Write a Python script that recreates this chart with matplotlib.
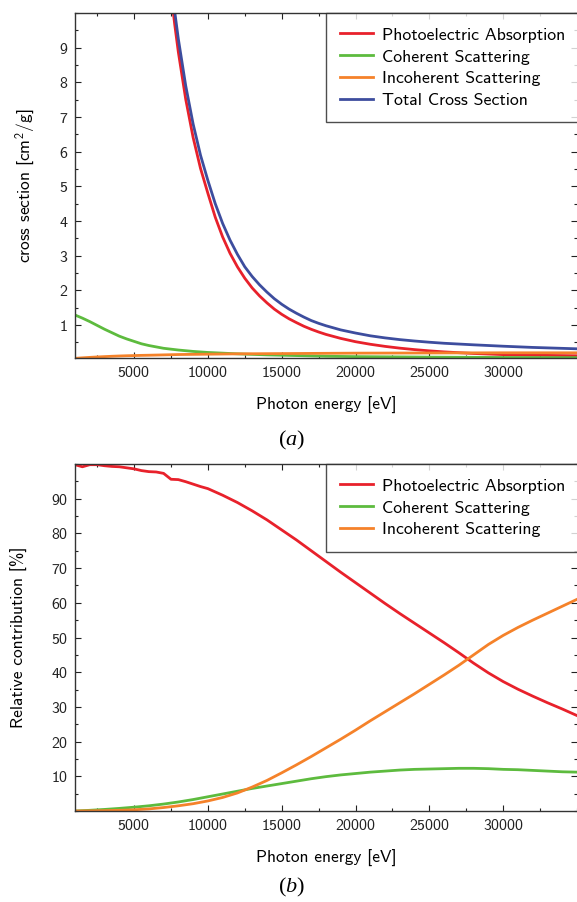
import matplotlib
matplotlib.use("Agg")
import matplotlib.pyplot as plt
from matplotlib.ticker import MultipleLocator

plt.rcParams['font.family'] = ['cmss10', 'DejaVu Sans']
plt.rcParams['mathtext.fontset'] = 'custom'
plt.rcParams['mathtext.rm'] = 'cmss10'
plt.rcParams['mathtext.sf'] = 'cmss10'
plt.rcParams['mathtext.it'] = 'Liberation Serif:italic'
plt.rcParams['mathtext.default'] = 'rm'
plt.rcParams['axes.formatter.use_mathtext'] = True

# ---------------- data: panel (a) cross sections [cm^2/g] ----------------
energy_photo_a = [7250, 7500, 7750, 8000, 8500, 9000, 9500, 10000, 10500, 11000,
                  11500, 12000, 12500, 13000, 13500, 14000, 14500, 15000, 15500,
                  16000, 16500, 17000, 17500, 18000, 19000, 20000, 21000, 22000,
                  23000, 24000, 25000, 26000, 28000, 30000, 32000, 35000]
photo_a = [11.6, 10.6, 9.68, 8.87, 7.51, 6.41, 5.52, 4.8, 4.11, 3.54,
           3.07, 2.68, 2.35, 2.07, 1.84, 1.64, 1.46, 1.31, 1.18,
           1.07, 0.966, 0.878, 0.80, 0.73, 0.615, 0.52, 0.446, 0.385,
           0.334, 0.292, 0.256, 0.226, 0.18, 0.148, 0.13, 0.115]
total_a = [12.0, 10.95, 10.05, 9.25, 7.9, 6.8, 5.9, 5.17, 4.5, 3.93,
           3.45, 3.04, 2.68, 2.4, 2.16, 1.95, 1.76, 1.6, 1.46,
           1.34, 1.23, 1.13, 1.05, 0.98, 0.86, 0.77, 0.69, 0.63,
           0.58, 0.54, 0.505, 0.475, 0.43, 0.39, 0.355, 0.315]

energy_scat_a = [1000, 1500, 2000, 2500, 3000, 3500, 4000, 4500, 5000, 5500, 6000,
                 6500, 7000, 8000, 9000, 10000, 11000, 12000, 14000, 16000, 18000,
                 20000, 25000, 30000, 35000]
coherent_a = [1.29, 1.20, 1.10, 0.99, 0.88, 0.78, 0.68, 0.60, 0.53, 0.46, 0.41,
              0.37, 0.33, 0.28, 0.24, 0.21, 0.19, 0.17, 0.14, 0.12, 0.10,
              0.09, 0.075, 0.065, 0.06]
incoherent_a = [0.04, 0.055, 0.068, 0.08, 0.09, 0.10, 0.108, 0.115, 0.12, 0.126, 0.13,
                0.135, 0.14, 0.15, 0.155, 0.16, 0.165, 0.17, 0.175, 0.18, 0.185,
                0.19, 0.195, 0.2, 0.2]

# ---------------- data: panel (b) relative contribution [%] ----------------
energy_photo_b = [1000, 1500, 2000, 2500, 3000, 3500, 4000, 4500, 5000, 5500, 6000,
                  6500, 7000, 7500, 8000, 8500, 9000, 9500, 10000, 11000, 12000,
                  13000, 14000, 15000, 16000, 17000, 18000, 19000, 20000, 21000,
                  22000, 23000, 24000, 25000, 26000, 27000, 28000, 29000, 30000,
                  31000, 32000, 33000, 34000, 35000]
photo_b = [99.8, 99.2, 99.8, 99.8, 99.5, 99.3, 99.2, 98.9, 98.6, 98.1, 97.8,
           97.7, 97.3, 95.6, 95.5, 94.9, 94.2, 93.5, 92.9, 91.0, 88.9,
           86.5, 83.9, 81.0, 78.1, 75.0, 71.9, 68.8, 65.8, 62.8,
           59.8, 56.9, 54.1, 51.3, 48.5, 45.6, 42.6, 39.8, 37.3,
           35.1, 33.1, 31.2, 29.4, 27.5]

energy_b = [1000, 2000, 3000, 4000, 5000, 6000, 7000, 8000, 9000, 10000, 11000,
            12000, 13000, 14000, 15000, 16000, 17000, 18000, 19000, 20000,
            21000, 22000, 23000, 24000, 25000, 26000, 27000, 28000, 29000,
            30000, 31000, 32000, 33000, 34000, 35000]
coherent_b = [0.0, 0.2, 0.45, 0.75, 1.1, 1.5, 2.0, 2.6, 3.3, 4.1, 4.9,
              5.7, 6.5, 7.2, 7.9, 8.6, 9.3, 9.9, 10.4, 10.8,
              11.2, 11.5, 11.8, 12.0, 12.1, 12.2, 12.3, 12.3, 12.2,
              12.0, 11.9, 11.7, 11.5, 11.3, 11.2]
incoherent_b = [0.0, 0.05, 0.1, 0.2, 0.35, 0.6, 1.0, 1.5, 2.1, 2.9, 3.9,
                5.2, 6.9, 8.8, 11.0, 13.3, 15.7, 18.2, 20.7, 23.3,
                26.0, 28.6, 31.2, 33.8, 36.5, 39.2, 42.0, 45.0, 48.0,
                50.6, 52.9, 55.0, 57.0, 59.0, 61.0]

labels = ["Photoelectric Absorption", "Coherent Scattering",
          "Incoherent Scattering", "Total Cross Section"]
c_red, c_green, c_orange, c_blue = "#e8212b", "#5dbb3e", "#f5822a", "#3d4d9e"

W, H = 577, 902
fig = plt.figure(figsize=(W / 100, H / 100), dpi=100)


def px_axes(left, top, right, bottom):
    return fig.add_axes([left / W, 1 - bottom / H, (right - left) / W, (bottom - top) / H])


ax1 = px_axes(75, 13, 577, 358)
ax2 = px_axes(75, 464, 577, 811)

lw = 2.0
ax1.plot(energy_photo_a, photo_a, color=c_red, lw=lw, label=labels[0])
ax1.plot(energy_scat_a, coherent_a, color=c_green, lw=lw, label=labels[1])
ax1.plot(energy_scat_a, incoherent_a, color=c_orange, lw=lw, label=labels[2])
ax1.plot(energy_photo_a, total_a, color=c_blue, lw=lw, label=labels[3])
ax1.set_ylim(0.05, 10)
ax1.set_yticks(range(1, 10))
ax1.yaxis.set_minor_locator(MultipleLocator(0.5))

ax2.plot(energy_photo_b, photo_b, color=c_red, lw=lw, label=labels[0])
ax2.plot(energy_b, coherent_b, color=c_green, lw=lw, label=labels[1])
ax2.plot(energy_b, incoherent_b, color=c_orange, lw=lw, label=labels[2])
ax2.set_ylim(0, 100)
ax2.set_yticks(range(10, 100, 10))
ax2.yaxis.set_minor_locator(MultipleLocator(5))

for ax in (ax1, ax2):
    ax.set_xlim(1000, 35000)
    ax.set_xticks([5000, 10000, 15000, 20000, 25000, 30000])
    ax.xaxis.set_minor_locator(MultipleLocator(2500))
    ax.tick_params(which='both', direction='in', top=True, right=True,
                   labelsize=11.5, colors='#222222', pad=5)
    ax.tick_params(which='major', length=4, width=0.8)
    ax.tick_params(which='minor', length=2.5, width=0.8)
    for s in ('left', 'bottom', 'top'):
        ax.spines[s].set_color('#333333')
        ax.spines[s].set_linewidth(1.0)
    ax.spines['right'].set_visible(False)
    ax.set_xlabel("Photon energy [eV]", fontsize=12.5)
    ax.xaxis.set_label_coords(0.5, -39 / (358 - 13))
    leg = ax.legend(loc='upper left', bbox_to_anchor=(251 / 502, 1.0),
                    frameon=True, fancybox=False, fontsize=12.8,
                    handlelength=1.85, handletextpad=0.5, labelspacing=0.36,
                    borderpad=0.8, borderaxespad=0.0)
    leg.get_frame().set_edgecolor('#222222')
    leg.get_frame().set_linewidth(1.0)

ax1.set_ylabel(r"cross section [cm$^2$/g]", fontsize=12.5)
ax1.yaxis.set_label_coords(-38 / 502, 0.5)
ax2.set_ylabel("Relative contribution [%]", fontsize=12.5)
ax2.yaxis.set_label_coords(-47 / 502, 0.5)

fig.text(292 / W, 1 - 440 / H, r"($\mathit{a}$)", ha='center', va='center', fontsize=16,
         family='Liberation Serif')
fig.text(292 / W, 1 - 887 / H, r"($\mathit{b}$)", ha='center', va='center', fontsize=16,
         family='Liberation Serif')

fig.savefig("out.png", dpi=100)
